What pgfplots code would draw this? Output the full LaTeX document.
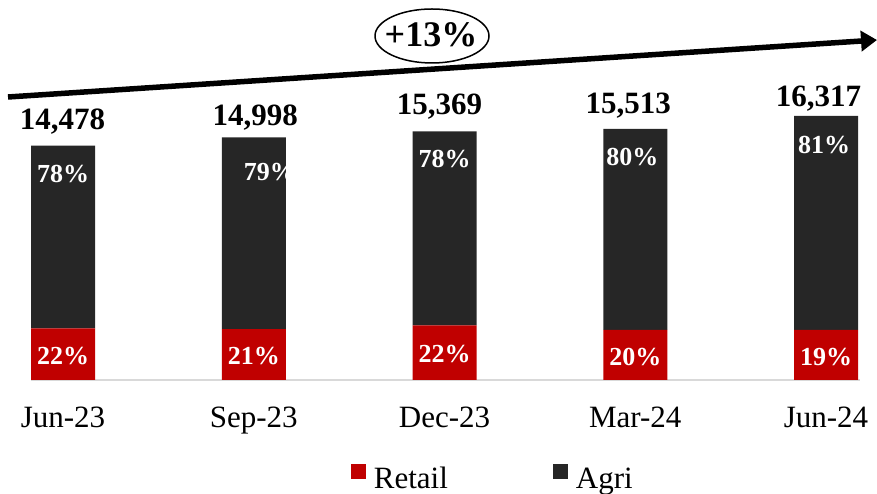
\documentclass[border=0pt]{standalone}
\usepackage{pgfplots}
\pgfplotsset{compat=1.18}
\usepackage{fontspec}
\setmainfont{Liberation Serif}
\usetikzlibrary{arrows.meta}
\definecolor{retail}{HTML}{C00000}
\definecolor{agri}{HTML}{262626}
\definecolor{baseline}{HTML}{D9D9D9}
\newcommand{\tot}[1]{\fontsize{31}{36}\selectfont\bfseries #1}
\newcommand{\pct}[1]{\fontsize{26}{30}\selectfont\bfseries\color{white}#1}
\begin{document}
\begin{tikzpicture}
\useasboundingbox (0,0) rectangle (877pt,494pt);
\begin{axis}[
  at={(31pt,114pt)}, anchor=south west,
  scale only axis, width=829pt, height=380pt,
  ybar stacked, bar width=64pt,
  xmin=-0.168, xmax=4.178, ymin=0, ymax=23480,
  axis x line=bottom, axis y line=none,
  x axis line style={draw=baseline, line width=2pt, -},
  xtick={0,1,2,3,4},
  xticklabels={Jun-23,Sep-23,Dec-23,Mar-24,Jun-24},
  major tick length=0pt,
  xticklabel style={font=\fontsize{31}{36}\selectfont, anchor=base, yshift=-48pt},
  clip=false,
  legend columns=2,
  legend style={draw=none, fill=none, at={(0.557,-0.258)}, anchor=center,
    font=\fontsize{31}{36}\selectfont,
    /tikz/every even column/.append style={column sep=103pt}},
  legend image code/.code={\fill[#1] (0pt,0pt) rectangle (15pt,15pt); \path (21pt,0pt);},
]
\addplot[fill=retail, draw=none] coordinates {(0,3185) (1,3150) (2,3381) (3,3103) (4,3100)};
\addplot[fill=agri, draw=none] coordinates {(0,11293) (1,11848) (2,11988) (3,12410) (4,13217)};
\legend{Retail, Agri}
\coordinate (t0) at (axis cs:0,14478);
\coordinate (t1) at (axis cs:1,14998);
\coordinate (t2) at (axis cs:2,15369);
\coordinate (t3) at (axis cs:3,15513);
\coordinate (t4) at (axis cs:4,16317);
\coordinate (b0) at (axis cs:0,0);
\coordinate (b1) at (axis cs:1,0);
\coordinate (b2) at (axis cs:2,0);
\coordinate (b3) at (axis cs:3,0);
\coordinate (b4) at (axis cs:4,0);
\end{axis}
% totals
\node[anchor=base, yshift=16pt, xshift=-0.5pt] at (t0) {\tot{14,478}};
\node[anchor=base, yshift=12pt, xshift=1.5pt] at (t1) {\tot{14,998}};
\node[anchor=base, yshift=16.5pt, xshift=-5pt] at (t2) {\tot{15,369}};
\node[anchor=base, yshift=15.5pt, xshift=-7pt] at (t3) {\tot{15,513}};
\node[anchor=base, yshift=9pt, xshift=-7.5pt] at (t4) {\tot{16,317}};
% agri shares
\node[anchor=base, yshift=-37pt] at (t0) {\pct{78\%}};
\node[anchor=base, yshift=-43pt, xshift=16pt] at (t1) {\pct{79\%}};
\node[anchor=base, yshift=-36pt] at (t2) {\pct{78\%}};
\node[anchor=base, yshift=-37pt, xshift=-3pt] at (t3) {\pct{80\%}};
\node[anchor=base, yshift=-38pt, xshift=-2pt] at (t4) {\pct{81\%}};
% retail shares
\node[anchor=base, yshift=15pt] at (b0) {\pct{22\%}};
\node[anchor=base, yshift=15pt] at (b1) {\pct{21\%}};
\node[anchor=base, yshift=17pt] at (b2) {\pct{22\%}};
\node[anchor=base, yshift=14pt] at (b3) {\pct{20\%}};
\node[anchor=base, yshift=14pt] at (b4) {\pct{19\%}};
% growth arrow
\draw[line width=5.5pt, -{Triangle[length=16pt,width=20pt]}] (8pt,397pt) -- (877pt,454pt);
\draw[line width=1.5pt, fill=white] (432pt,458pt) ellipse [x radius=57pt, y radius=27pt];
\node[anchor=base] at (431pt,447pt) {\fontsize{36}{40}\selectfont\bfseries +13\%};
\end{tikzpicture}
\end{document}
